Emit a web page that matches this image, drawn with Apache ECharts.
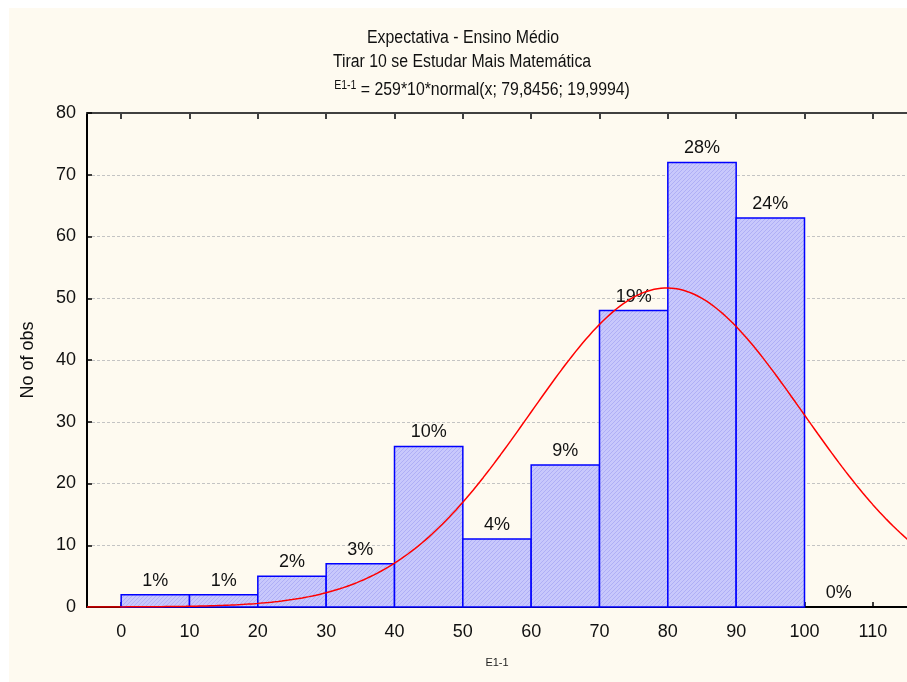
<!DOCTYPE html>
<html>
<head>
<meta charset="utf-8">
<script src="https://cdn.jsdelivr.net/npm/echarts@6/dist/echarts.min.js"></script>
<style>
  html, body { margin: 0; padding: 0; background: #ffffff; }
  #frame { position: absolute; left: 9px; top: 8px; width: 898px; height: 674px; background: #fefaf0; }
  #chart { position: absolute; left: 0; top: 0; width: 907px; height: 682px; }
</style>
</head>
<body>
<div id="frame"></div>
<div id="chart"></div>
<script>
// Histogram bins (lower edge, upper edge) and observed counts
const binStarts = [0, 10, 20, 30, 40, 50, 60, 70, 80, 90, 100];
const binEnds   = [10, 20, 30, 40, 50, 60, 70, 80, 90, 100, 110];
const counts    = [2, 2, 5, 7, 26, 11, 23, 48, 72, 63, 0];
const percentLabels = ['1%', '1%', '2%', '3%', '10%', '4%', '9%', '19%', '28%', '24%', '0%'];

// Fitted normal curve: 259*10*normal(x; 79,8456; 19,9994)
const fitN = [259];
const fitBinWidth = [10];
const fitMean = [79.8456];
const fitSd = [19.9994];

const xTicks = [0, 10, 20, 30, 40, 50, 60, 70, 80, 90, 100, 110];

const FONT = '"Liberation Sans", Arial, sans-serif';

function normalDensity(x, m, s) {
  const z = (x - m) / s;
  return Math.exp(-0.5 * z * z) / (s * Math.sqrt(2 * Math.PI));
}
const curve = [];
for (let x = -5; x <= 116; x += 0.5) {
  curve.push([x, fitN[0] * fitBinWidth[0] * normalDensity(x, fitMean[0], fitSd[0])]);
}

// Diagonal hatch fill for the bars
const pat = document.createElement('canvas');
pat.width = 4; pat.height = 4;
const pc = pat.getContext('2d');
pc.fillStyle = '#c8c8fc';
pc.fillRect(0, 0, 4, 4);
pc.strokeStyle = '#afaff6';
pc.lineWidth = 1;
pc.beginPath();
pc.moveTo(0, 4); pc.lineTo(4, 0);
pc.moveTo(-2, 2); pc.lineTo(2, -2);
pc.moveTo(2, 6); pc.lineTo(6, 2);
pc.stroke();
const hatch = { image: pat, repeat: 'repeat' };

const barData = binStarts.map((s, i) => [s, binEnds[i], counts[i], percentLabels[i]]);

// Slightly condensed title line centred at (cx, cy)
function titleLine(text, cx, cy, rich) {
  return {
    type: 'text', x: cx, y: cy, scaleX: 0.88, scaleY: 1,
    style: { text: text, x: 0, y: 0, font: '18px ' + FONT, fill: '#111',
             textAlign: 'center', textVerticalAlign: 'middle', rich: rich }
  };
}

const chart = echarts.init(document.getElementById('chart'), null, { renderer: 'canvas' });
chart.setOption({
  backgroundColor: 'transparent',
  animation: false,
  graphic: [
    titleLine('Expectativa - Ensino Médio', 463, 38),
    titleLine('Tirar 10 se Estudar Mais Matemática', 462, 62),
    titleLine('{sup|E1-1} = 259*10*normal(x; 79,8456; 19,9994)', 482, 90,
      { sup: { fontSize: 12, fontFamily: FONT, verticalAlign: 'top', padding: [0, 0, 9, 0], fill: '#111' } }),
    { type: 'text', x: 497, y: 663, style: { text: 'E1-1', font: '11px ' + FONT, fill: '#222', textAlign: 'center', textVerticalAlign: 'middle' } }
  ],
  grid: { left: 87, top: 113, width: 823, height: 494, containLabel: false },
  xAxis: [
    {
      type: 'value', min: -5, max: 115, interval: 10, position: 'bottom',
      axisLine: { show: true, onZero: false, lineStyle: { color: '#000', width: 2 } },
      axisTick: { show: true, inside: true, length: 5, lineStyle: { color: '#000', width: 1.5 },
                  customValues: xTicks },
      axisLabel: { fontSize: 18, fontFamily: FONT, color: '#111', margin: 16, customValues: xTicks },
      splitLine: { show: false }
    },
    {
      type: 'value', min: -5, max: 115, interval: 10, position: 'top',
      axisLine: { show: true, onZero: false, lineStyle: { color: '#404040', width: 2 } },
      axisTick: { show: true, inside: true, length: 6, lineStyle: { color: '#404040', width: 2 },
                  customValues: xTicks },
      axisLabel: { show: false },
      splitLine: { show: false }
    }
  ],
  yAxis: {
    type: 'value', min: 0, max: 80, interval: 10,
    name: 'No of obs', nameLocation: 'middle', nameGap: 50, nameRotate: 90,
    nameTextStyle: { fontSize: 18, fontFamily: FONT, color: '#111' },
    axisLine: { show: true, onZero: false, lineStyle: { color: '#000', width: 2 } },
    axisTick: { show: true, inside: true, length: 5, lineStyle: { color: '#000', width: 1.5 } },
    axisLabel: { fontSize: 18, fontFamily: FONT, color: '#111', margin: 11 },
    splitLine: { show: true, lineStyle: { color: '#c4c4c4', type: [3, 2], width: 1 } }
  },
  series: [
    {
      type: 'custom',
      xAxisIndex: 0,
      data: barData,
      encode: { x: [0, 1], y: 2 },
      renderItem: function (params, api) {
        const top = api.coord([api.value(0), api.value(2)]);
        const base = api.coord([api.value(1), 0]);
        const label = barData[params.dataIndex][3];
        const children = [];
        if (base[1] - top[1] > 0.5) {
          children.push({ type: 'rect',
            shape: { x: top[0], y: top[1], width: base[0] - top[0], height: base[1] - top[1] },
            style: { fill: hatch, stroke: '#0000ff', lineWidth: 1.5 } });
        }
        children.push({ type: 'text',
          style: { text: label, x: (top[0] + base[0]) / 2, y: top[1] - 5,
                   textAlign: 'center', textVerticalAlign: 'bottom',
                   font: '18px ' + FONT, fill: '#111' } });
        return { type: 'group', children: children };
      },
      z: 2
    },
    {
      type: 'line',
      xAxisIndex: 0,
      data: curve,
      showSymbol: false,
      smooth: false,
      clip: true,
      lineStyle: { color: '#ff0000', width: 1.5 },
      z: 3
    }
  ]
});
</script>
</body>
</html>
